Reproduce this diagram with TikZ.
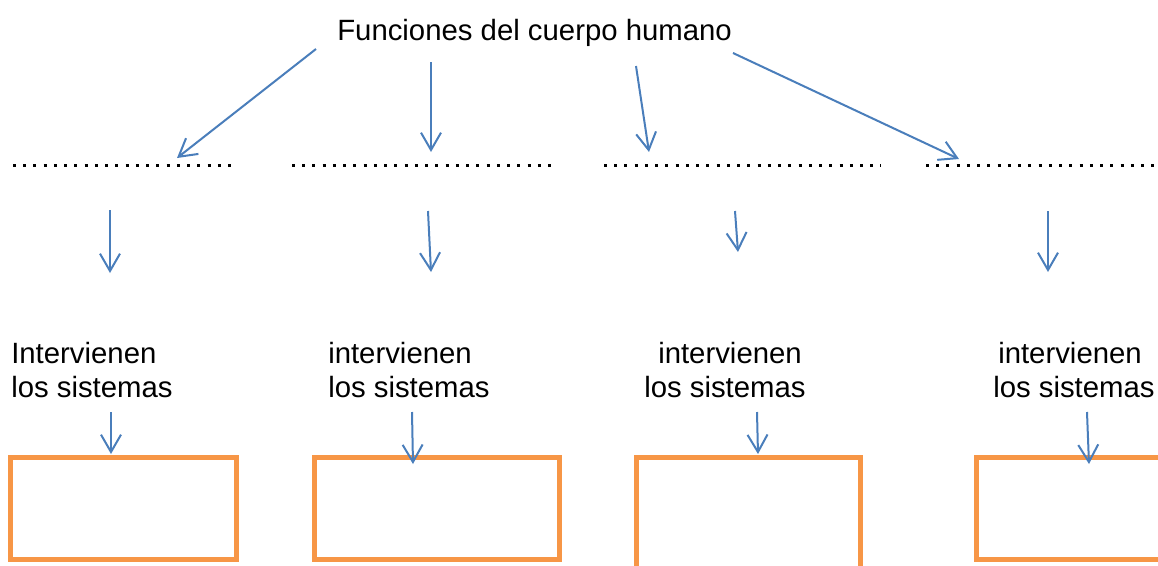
\documentclass[tikz,border=0pt]{standalone}
\usepackage{fontspec}
\setmainfont{Liberation Sans}
\usepackage{xcolor}
\usetikzlibrary{arrows.meta}
\definecolor{flechaazul}{RGB}{74,126,187}
\definecolor{cajanaranja}{RGB}{247,150,70}

\begin{document}
\begin{tikzpicture}[x=0.75pt,y=-0.75pt,
  texto/.style={anchor=base west,inner sep=0pt,font=\fontsize{22}{26}\selectfont},
  flecha/.style={draw=flechaazul,line width=1.5pt,-{Straight Barb[length=13pt,width=15pt]}},
  puntos/.style={draw=black,line width=2.25pt,dash pattern=on 2.25pt off 5.43pt},
  caja/.style={draw=cajanaranja,line width=3.75pt}]

\useasboundingbox (0,0) rectangle (1158,565);

\node[texto] (titulo) at (337,40) {Funciones del cuerpo humano};

\coordinate (t1) at (316,49);   \coordinate (f1) at (177,158);
\coordinate (t2) at (431,62);   \coordinate (f2) at (431,152);
\coordinate (t3) at (636,66);   \coordinate (f3) at (649,152);
\coordinate (t4) at (733,53);   \coordinate (f4) at (959,159);

\draw[flecha] (t1) -- (f1);
\draw[flecha] (t2) -- (f2);
\draw[flecha] (t3) -- (f3);
\draw[flecha] (t4) -- (f4);

\draw[puntos] (13,165) -- (231,165);
\draw[puntos] (292,165) -- (551,165);
\draw[puntos] (604,165) -- (881,165);
\draw[puntos] (926,165) -- (1158,165);

\coordinate (m1) at (110,210);  \coordinate (n1) at (110,273);
\coordinate (m2) at (428,211);  \coordinate (n2) at (431,272);
\coordinate (m3) at (735,211);  \coordinate (n3) at (738,252);
\coordinate (m4) at (1048,211); \coordinate (n4) at (1048,272);

\draw[flecha] (m1) -- (n1);
\draw[flecha] (m2) -- (n2);
\draw[flecha] (m3) -- (n3);
\draw[flecha] (m4) -- (n4);

\node[texto] (int1) at (11,363) {Intervienen};
\node[texto] (sis1) at (11,397) {los sistemas};
\node[texto] (int2) at (328,363) {intervienen};
\node[texto] (sis2) at (328,397) {los sistemas};
\node[texto] (int3) at (658,363) {intervienen};
\node[texto] (sis3) at (644,397) {los sistemas};
\node[texto] (int4) at (998,363) {intervienen};
\node[texto] (sis4) at (993,397) {los sistemas};

\coordinate (s1) at (111,412);  \coordinate (c1) at (111,454);
\coordinate (s2) at (412,412);  \coordinate (c2) at (413,464);
\coordinate (s3) at (757,412);  \coordinate (c3) at (758,454);
\coordinate (s4) at (1087,412); \coordinate (c4) at (1089,464);

\draw[caja] (10.5,457.5) rectangle (236.5,559.5);
\draw[caja] (314.5,457.5) rectangle (559.5,559.5);
\draw[caja] (636.5,457.5) rectangle (860.5,600);
\draw[caja] (976.5,457.5) rectangle (1200,559.5);

\draw[flecha] (s1) -- (c1);
\draw[flecha] (s2) -- (c2);
\draw[flecha] (s3) -- (c3);
\draw[flecha] (s4) -- (c4);

\end{tikzpicture}
\end{document}
